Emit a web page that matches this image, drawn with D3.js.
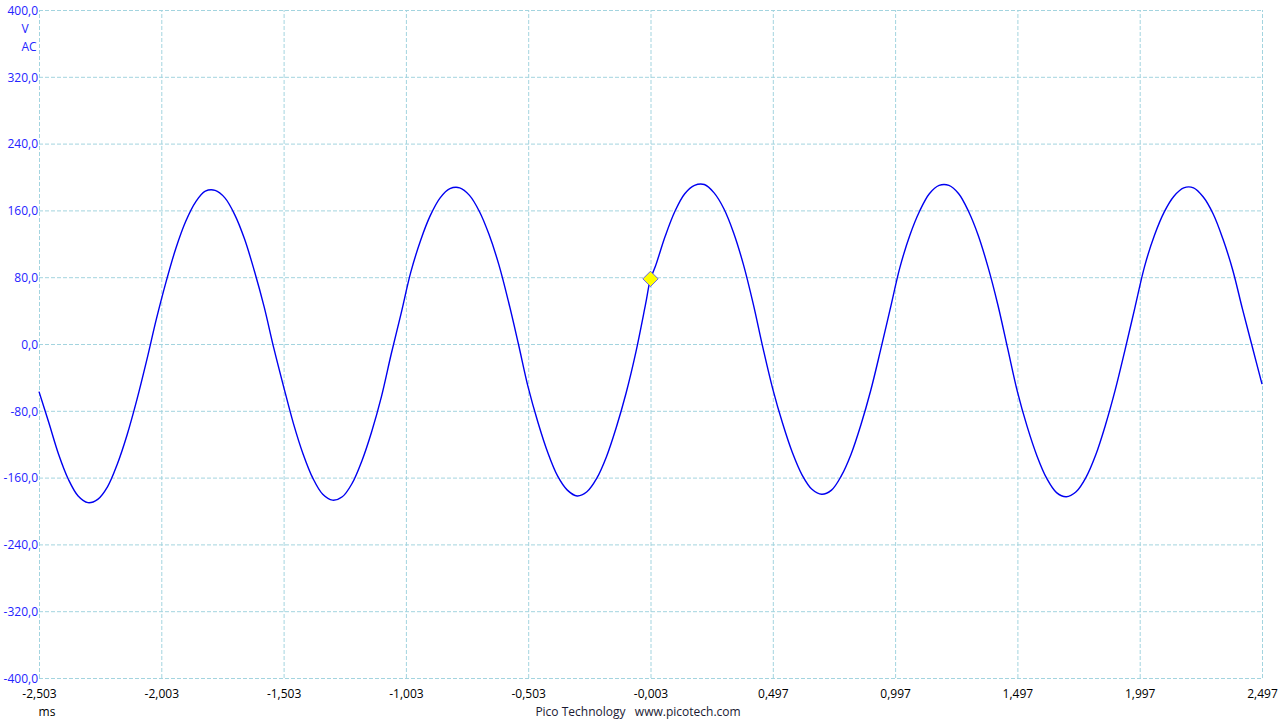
<!DOCTYPE html>
<html>
<head>
<meta charset="utf-8">
<script src="https://cdn.jsdelivr.net/npm/d3@7"></script>
<style>
  html, body { margin: 0; padding: 0; background: #ffffff; }
  svg { display: block; }
  text { font-family: "Open Sans", "Noto Sans", sans-serif; }
</style>
</head>
<body>
<svg id="chart" width="1280" height="720"></svg>
<script>
// ---- data ----
const sampleStart = -2.503;   // ms, first sample
const sampleStep = 0.04;      // ms between samples
const voltage = [
  -57, -94, -132, -162, -182, -190, -186, -171, -144, -109, -67, -20,
  30, 75, 115, 147, 170, 183, 184, 175, 155, 126, 88, 45,
  -5, -51, -95, -132, -161, -180, -187, -183, -167, -140, -105, -63, -12,
  36, 86, 124, 154, 175, 186, 187, 178, 159, 131, 95, 50,
  0, -52, -94, -130, -158, -175, -182, -177, -161, -135, -100, -59, -10,
  48, 93, 129, 159, 180, 190, 191, 181, 162, 133, 95, 48,
  -5, -54, -95, -130, -157, -174, -180, -175, -158, -132, -97, -56, -8,
  42, 92, 130, 159, 180, 190, 190, 180, 159, 130, 92, 47,
  -5, -57, -99, -134, -161, -178, -183, -177, -160, -133, -97, -55, -7,
  43, 93, 130, 158, 177, 187, 187, 176, 156, 126, 89, 42, -3, -48
];
const triggerTime = [-0.003];
const triggerVolt = [78];

const xTickValues = [-2.503, -2.003, -1.503, -1.003, -0.503, -0.003, 0.497, 0.997, 1.497, 1.997, 2.497];
const xTickLabels = ["-2,503", "-2,003", "-1,503", "-1,003", "-0,503", "-0,003", "0,497", "0,997", "1,497", "1,997", "2,497"];
const yTickValues = [400, 320, 240, 160, 80, 0, -80, -160, -240, -320, -400];
const yTickLabels = ["400,0", "320,0", "240,0", "160,0", "80,0", "0,0", "-80,0", "-160,0", "-240,0", "-320,0", "-400,0"];

// ---- layout ----
const plot = { left: 39, right: 1262, top: 10, bottom: 678 };
const svg = d3.select("#chart");

const x = d3.scaleLinear().domain([-2.503, 2.497]).range([plot.left, plot.right]);
const y = d3.scaleLinear().domain([-400, 400]).range([plot.bottom, plot.top]);

const gridColor = "#a3d4df";
const labelBlue = "#2424ff";

// vertical grid
svg.append("g")
  .attr("transform", `translate(0,${plot.bottom})`)
  .call(d3.axisBottom(x).tickValues(xTickValues).tickSize(-(plot.bottom - plot.top)).tickFormat(""))
  .call(g => g.select(".domain").remove())
  .call(g => g.selectAll("line").attr("stroke", gridColor).attr("stroke-dasharray", "4,2").attr("stroke-width", 1));

// horizontal grid
svg.append("g")
  .attr("transform", `translate(${plot.left},0)`)
  .call(d3.axisLeft(y).tickValues(yTickValues).tickSize(-(plot.right - plot.left)).tickFormat(""))
  .call(g => g.select(".domain").remove())
  .call(g => g.selectAll("line").attr("stroke", gridColor).attr("stroke-dasharray", "4,2").attr("stroke-width", 1));

// y axis labels
svg.append("g")
  .attr("transform", `translate(${plot.left - 1},0)`)
  .call(d3.axisLeft(y).tickValues(yTickValues).tickSize(0).tickPadding(0)
        .tickFormat((d, i) => yTickLabels[i]))
  .call(g => g.select(".domain").remove())
  .call(g => g.selectAll("text")
      .attr("fill", labelBlue).attr("font-size", 12)
      .attr("font-family", "'Open Sans', 'Noto Sans', sans-serif")
      .attr("dy", "0.35em"));

// unit labels
svg.append("text").attr("x", 25).attr("y", 33).attr("text-anchor", "middle")
  .attr("fill", labelBlue).attr("font-size", 12).text("V");
svg.append("text").attr("x", 29).attr("y", 51).attr("text-anchor", "middle")
  .attr("fill", labelBlue).attr("font-size", 12).text("AC");

// x axis labels
svg.append("g")
  .attr("transform", `translate(0,${plot.bottom})`)
  .call(d3.axisBottom(x).tickValues(xTickValues).tickSize(0).tickPadding(0)
        .tickFormat((d, i) => xTickLabels[i]))
  .call(g => g.select(".domain").remove())
  .call(g => g.selectAll("text")
      .attr("fill", "#000").attr("font-size", 12)
      .attr("font-family", "'Open Sans', 'Noto Sans', sans-serif")
      .attr("dy", null).attr("y", 20));

svg.append("text").attr("x", 47).attr("y", 716).attr("text-anchor", "middle")
  .attr("fill", "#000").attr("font-size", 12).text("ms");

svg.append("text").attr("x", 638).attr("y", 716).attr("text-anchor", "middle")
  .attr("fill", "#1a1a33").attr("font-size", 12).style("white-space", "pre")
  .text("Pico Technology   www.picotech.com");

// waveform
const points = voltage.map((v, i) => ({ t: sampleStart + i * sampleStep, v }));
triggerTime.forEach((t, i) => points.push({ t, v: triggerVolt[i] }));
points.sort((a, b) => a.t - b.t);

const line = d3.line().x(d => x(d.t)).y(d => y(d.v)).curve(d3.curveCatmullRom.alpha(0.5));
svg.append("path").datum(points)
  .attr("d", line).attr("fill", "none").attr("stroke", "#0000f0").attr("stroke-width", 1.4);

// trigger marker
const sym = d3.symbol().type(d3.symbolDiamond2).size(150);
svg.selectAll(".trig").data(triggerTime).join("path")
  .attr("class", "trig")
  .attr("transform", (d, i) => `translate(${x(d)},${y(triggerVolt[i])})`)
  .attr("d", sym())
  .attr("fill", "#ffff00").attr("stroke", "#4040ff").attr("stroke-width", 0.8);
</script>
</body>
</html>
